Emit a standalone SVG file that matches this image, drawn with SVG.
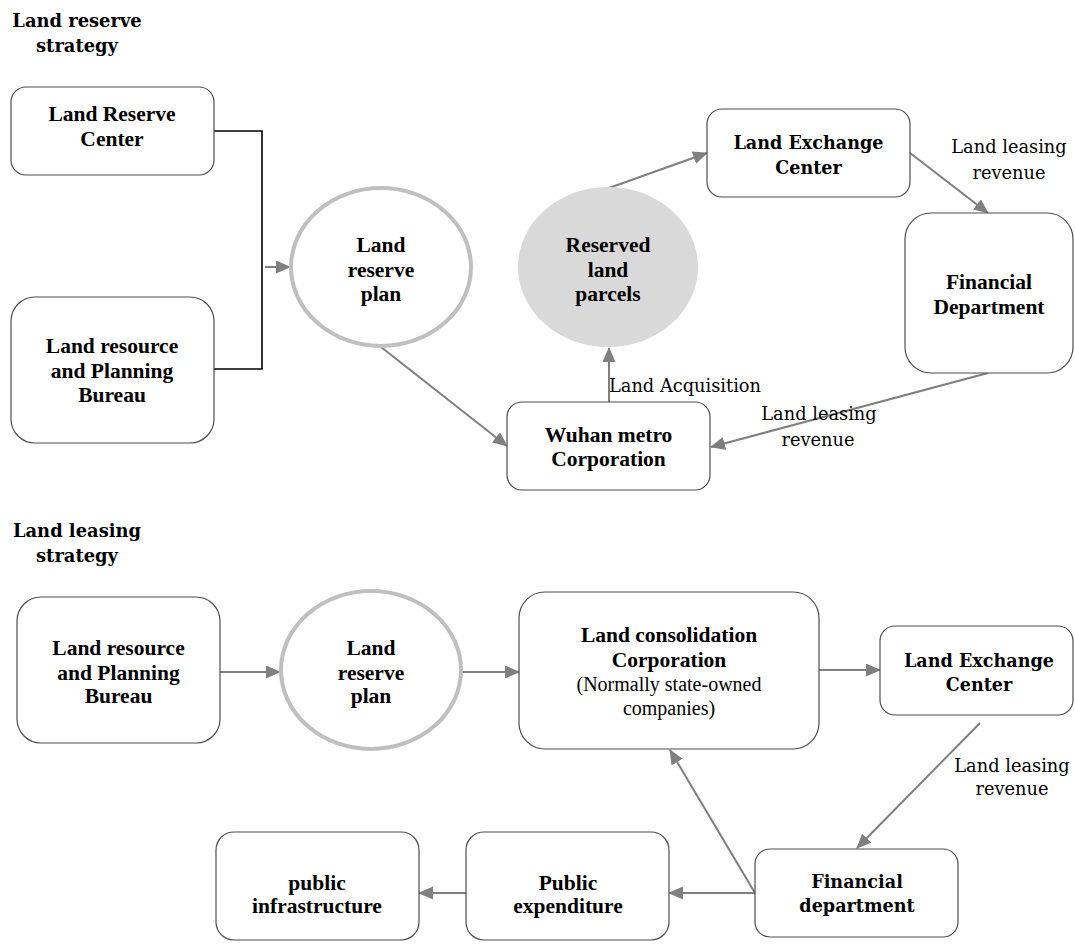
<svg xmlns="http://www.w3.org/2000/svg" width="1075" height="951" viewBox="0 0 1075 951">
  <style>
    .box { fill: #ffffff; stroke: #4d4d4d; stroke-width: 1.2; }
    .plan { fill: #ffffff; stroke: #bfbfbf; stroke-width: 4; }
    .parcel { fill: #d9d9d9; stroke: none; }
    .tb { font-family: "Liberation Serif", "Times New Roman", serif; font-weight: bold; font-size: 21.5px; fill: #000; text-anchor: middle; }
    .tr { font-family: "Liberation Serif", "Times New Roman", serif; font-size: 20px; fill: #000; text-anchor: middle; }
    .cb { font-family: "DejaVu Serif", serif; font-weight: bold; font-size: 17.6px; fill: #000; text-anchor: middle; }
    .hd { font-family: "DejaVu Serif", serif; font-weight: bold; font-size: 17.9px; fill: #000; text-anchor: middle; }
    .lbl { font-family: "DejaVu Serif", serif; font-size: 17.8px; fill: #000; text-anchor: middle; }
    .edge { fill: none; stroke: #7f7f7f; stroke-width: 2; marker-end: url(#arrow); }
    .join { fill: none; stroke: #000000; stroke-width: 1.6; }
  </style>
  <defs>
    <marker id="arrow" markerUnits="userSpaceOnUse" markerWidth="16" markerHeight="14" refX="14" refY="6.5" orient="auto">
      <path d="M0,0 L15,6.5 L0,13 z" fill="#7f7f7f"/>
    </marker>
  </defs>

  <rect width="1075" height="951" fill="#ffffff"/>

  <!-- section headings -->
  <g id="title-reserve">
    <text class="hd" x="77" y="27">Land reserve</text>
    <text class="hd" x="77" y="52">strategy</text>
  </g>
  <g id="title-leasing">
    <text class="hd" x="77" y="537">Land leasing</text>
    <text class="hd" x="77" y="562">strategy</text>
  </g>

  <!-- connectors -->
  <g id="connectors">
    <!-- upper flow -->
    <polyline class="join" points="214,131 262,131 262,369 214,369"/>
    <line class="edge" x1="265" y1="267" x2="290" y2="267"/>
    <line class="edge" x1="381" y1="347" x2="507" y2="446"/>
    <line class="edge" x1="609" y1="402" x2="609" y2="348"/>
    <line class="edge" x1="609" y1="188" x2="707" y2="153"/>
    <line class="edge" x1="910" y1="153" x2="988" y2="213"/>
    <line class="edge" x1="988" y1="373" x2="711" y2="447"/>
    <!-- lower flow -->
    <line class="edge" x1="220" y1="672" x2="280" y2="672"/>
    <line class="edge" x1="462" y1="672" x2="519" y2="672"/>
    <line class="edge" x1="819" y1="670" x2="880" y2="670"/>
    <line class="edge" x1="980" y1="723" x2="857" y2="848"/>
    <line class="edge" x1="755" y1="893" x2="670" y2="750"/>
    <line class="edge" x1="755" y1="893" x2="669" y2="893"/>
    <line class="edge" x1="466" y1="893" x2="419" y2="893"/>
  </g>

  <!-- connector labels -->
  <g id="edge-labels">
    <text class="lbl" x="1009" y="153">Land leasing</text>
    <text class="lbl" x="1009" y="179">revenue</text>
    <text class="lbl" x="609" y="392" style="text-anchor:start">Land Acquisition</text>
    <text class="lbl" x="819" y="420">Land leasing</text>
    <text class="lbl" x="818" y="446">revenue</text>
    <text class="lbl" x="1012" y="772">Land leasing</text>
    <text class="lbl" x="1012" y="795">revenue</text>
  </g>

  <!-- upper nodes -->
  <g id="land-reserve-center">
    <rect class="box" x="11" y="87" width="203" height="88" rx="15"/>
    <text class="tb" x="112" y="121">Land Reserve</text>
    <text class="tb" x="112" y="146">Center</text>
  </g>
  <g id="bureau-top">
    <rect class="box" x="11" y="297" width="203" height="146" rx="24"/>
    <text class="tb" x="112" y="353">Land resource</text>
    <text class="tb" x="112" y="378">and Planning</text>
    <text class="tb" x="112" y="402">Bureau</text>
  </g>
  <g id="plan-top">
    <ellipse class="plan" cx="381" cy="267" rx="90" ry="79"/>
    <text class="tb" x="381" y="252">Land</text>
    <text class="tb" x="381" y="277">reserve</text>
    <text class="tb" x="381" y="301">plan</text>
  </g>
  <g id="reserved-parcels">
    <ellipse class="parcel" cx="608" cy="267" rx="90" ry="80"/>
    <text class="tb" x="608" y="252">Reserved</text>
    <text class="tb" x="608" y="277">land</text>
    <text class="tb" x="608" y="301">parcels</text>
  </g>
  <g id="wuhan-metro">
    <rect class="box" x="507" y="402" width="203" height="88" rx="15"/>
    <text class="tb" x="608.5" y="442">Wuhan metro</text>
    <text class="tb" x="608.5" y="466">Corporation</text>
  </g>
  <g id="exchange-top">
    <rect class="box" x="707" y="109" width="203" height="88" rx="15"/>
    <text class="cb" x="808.5" y="149">Land Exchange</text>
    <text class="cb" x="808.5" y="174">Center</text>
  </g>
  <g id="financial-top">
    <rect class="box" x="905" y="213" width="168" height="160" rx="26"/>
    <text class="tb" x="989" y="289">Financial</text>
    <text class="tb" x="989" y="314">Department</text>
  </g>

  <!-- lower nodes -->
  <g id="bureau-bottom">
    <rect class="box" x="17" y="597" width="203" height="146" rx="24"/>
    <text class="tb" x="118.5" y="655">Land resource</text>
    <text class="tb" x="118.5" y="680">and Planning</text>
    <text class="tb" x="118.5" y="703">Bureau</text>
  </g>
  <g id="plan-bottom">
    <ellipse class="plan" cx="371" cy="670" rx="90" ry="79"/>
    <text class="tb" x="371" y="655">Land</text>
    <text class="tb" x="371" y="680">reserve</text>
    <text class="tb" x="371" y="703">plan</text>
  </g>
  <g id="consolidation">
    <rect class="box" x="519" y="592" width="300" height="157" rx="26"/>
    <text class="tb" x="669" y="642">Land consolidation</text>
    <text class="tb" x="669" y="667">Corporation</text>
    <text class="tr" x="669" y="691">(Normally state-owned</text>
    <text class="tr" x="669" y="715">companies)</text>
  </g>
  <g id="exchange-bottom">
    <rect class="box" x="880" y="626" width="193" height="89" rx="15"/>
    <text class="cb" x="979" y="667">Land Exchange</text>
    <text class="cb" x="979" y="691">Center</text>
  </g>
  <g id="financial-bottom">
    <rect class="box" x="755" y="849" width="203" height="88" rx="15"/>
    <text class="cb" x="857" y="888">Financial</text>
    <text class="cb" x="857" y="912">department</text>
  </g>
  <g id="public-expenditure">
    <rect class="box" x="466" y="832" width="203" height="108" rx="18"/>
    <text class="tb" x="568" y="890">Public</text>
    <text class="tb" x="568" y="913">expenditure</text>
  </g>
  <g id="public-infrastructure">
    <rect class="box" x="216" y="832" width="203" height="108" rx="18"/>
    <text class="tb" x="317" y="890">public</text>
    <text class="tb" x="317" y="913">infrastructure</text>
  </g>
</svg>
